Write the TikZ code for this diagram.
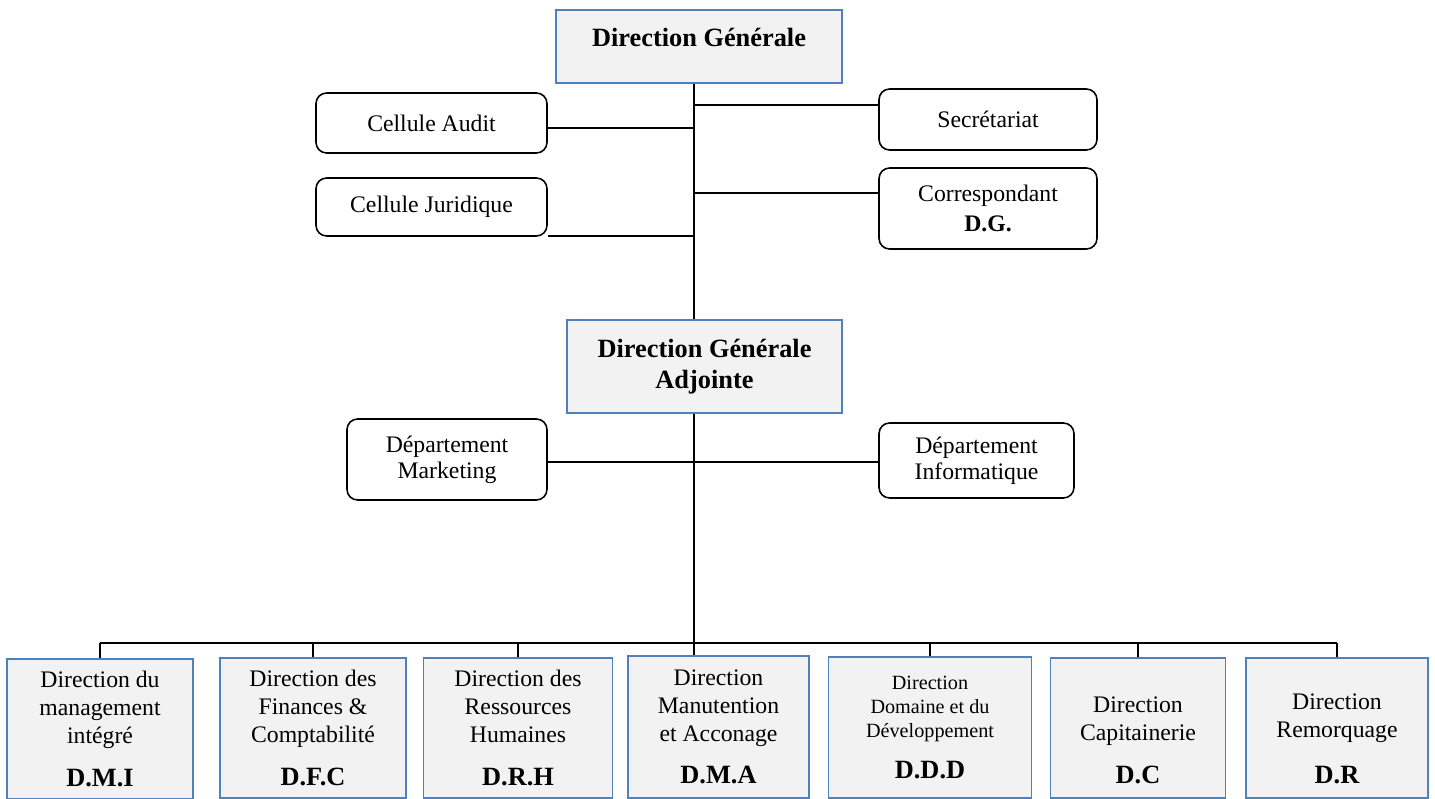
\documentclass[tikz,border=0pt]{standalone}
\usepackage{fontspec}
\setmainfont{Liberation Serif}
\definecolor{dirblue}{HTML}{4F81BD}
\definecolor{dirgray}{HTML}{F2F2F2}

\begin{document}
\begin{tikzpicture}[x=0.02cm,y=-0.02cm,
  dirbox/.style={draw=dirblue,fill=dirgray,line width=1pt,align=center,font=\fontsize{15}{18}\selectfont\bfseries},
  subbox/.style={draw=dirblue,fill=dirgray,line width=1pt,align=center,anchor=north,font=\fontsize{13.5}{16}\selectfont},
  cellbox/.style={draw,fill=white,rounded corners=6pt,line width=0.9pt,align=center,font=\fontsize{13.5}{15}\selectfont},
  link/.style={line width=1pt}]
  \clip (0,0) rectangle (1435,798);
  % direction generale et cellules
  \node[dirbox,minimum width=5.72cm,minimum height=1.46cm,text depth=10pt] (dg) at (699,46.5) {Direction Générale};
  \node[dirbox,minimum width=5.5cm,minimum height=1.86cm] (dga) at (704.5,366.5) {Direction Générale\\Adjointe};
  \node[cellbox,minimum width=4.62cm,minimum height=1.2cm] (audit) at (431.5,123) {Cellule Audit};
  \node[cellbox,minimum width=4.62cm,minimum height=1.16cm] (jur) at (431.5,207) {Cellule Juridique};
  \node[cellbox,minimum width=4.36cm,minimum height=1.22cm] (sec) at (988,119.5) {Secrétariat};
  \node[cellbox,minimum width=4.36cm,minimum height=1.62cm] (corr) at (988,208.5) {Correspondant\\[2pt]\textbf{D.G.}};
  \node[cellbox,minimum width=4cm,minimum height=1.62cm] (mkt) at (447,459.5) {Département\\Marketing};
  \node[cellbox,minimum width=3.9cm,minimum height=1.5cm] (info) at (976.5,460.5) {Département\\Informatique};
  % directions
  \node[subbox,minimum width=3.72cm,minimum height=2.8cm] (d1) at (100,658) {Direction du\\management\\intégré\\[8pt]{\bfseries\fontsize{15}{18}\selectfont D.M.I}};
  \node[subbox,minimum width=3.72cm,minimum height=2.8cm] (d2) at (313,657) {Direction des\\Finances \&\\Comptabilité\\[8pt]{\bfseries\fontsize{15}{18}\selectfont D.F.C}};
  \node[subbox,minimum width=3.78cm,minimum height=2.8cm] (d3) at (518,657) {Direction des\\Ressources\\Humaines\\[8pt]{\bfseries\fontsize{15}{18}\selectfont D.R.H}};
  \node[subbox,minimum width=3.62cm,minimum height=2.84cm] (d4) at (718.5,655) {Direction\\Manutention\\et Acconage\\[8pt]{\bfseries\fontsize{15}{18}\selectfont D.M.A}};
  \node[subbox,minimum width=4.06cm,minimum height=2.82cm,font=\fontsize{11.5}{13.6}\selectfont] (d5) at (930,656) {Direction\\Domaine et du\\Développement\\[10pt]{\bfseries\fontsize{15}{18}\selectfont D.D.D}};
  \node[subbox,minimum width=3.5cm,minimum height=2.8cm] (d6) at (1138,657) {\rule{0pt}{23pt}Direction\\Capitainerie\\[8pt]{\bfseries\fontsize{15}{18}\selectfont D.C}};
  \node[subbox,minimum width=3.64cm,minimum height=2.8cm] (d7) at (1337,657) {\rule{0pt}{21pt}Direction\\Remorquage\\[10pt]{\bfseries\fontsize{15}{18}\selectfont D.R}};
  % liaisons
  \coordinate (top) at (694,0);
  \coordinate (ja) at (694,128);
  \coordinate (js) at (694,105);
  \coordinate (jc) at (694,193);
  \coordinate (jj) at (694,236);
  \coordinate (jm) at (694,462);
  \coordinate (bus) at (694,643);
  \draw[link] (dg.south -| top) -- (dga.north -| top);
  \draw[link] (dga.south -| top) -- (d4.north -| top);
  \draw[link] (ja) -- (ja -| audit.east);
  \draw[link] (js) -- (js -| sec.west);
  \draw[link] (jc) -- (jc -| corr.west);
  \draw[link] (jj) -- (jj -| jur.east);
  \draw[link] (jm -| mkt.east) -- (jm -| info.west);
  \draw[link] (bus -| d1.north) -- (bus -| d7.north);
  \foreach \n in {1,2,3,5,6,7}
    \draw[link] (bus -| d\n.north) -- (d\n.north);
\end{tikzpicture}
\end{document}
